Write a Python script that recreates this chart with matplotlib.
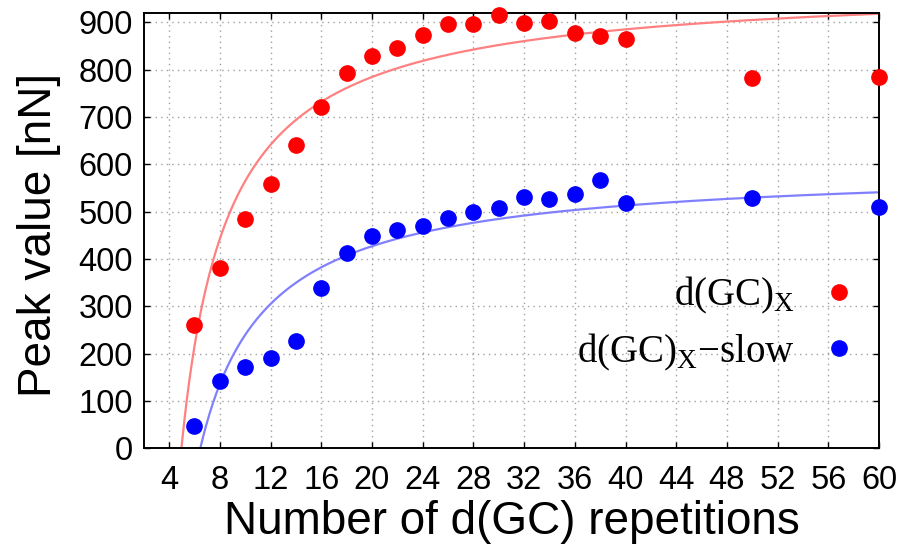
import numpy as np
from matplotlib import pyplot as plt

plt.rcParams['font.family'] = ['Liberation Sans', 'DejaVu Sans']
plt.rcParams['mathtext.fontset'] = 'custom'
plt.rcParams['mathtext.rm'] = 'Liberation Serif'

# number of d(GC) repetitions
reps = [6, 8, 10, 12, 14, 16, 18, 20, 22, 24, 26, 28, 30, 32, 34, 36, 38, 40, 50, 60]
# peak values [nN]
peak_fast = [260, 380, 484, 558, 640, 720, 793, 829, 846, 872, 896, 896, 916, 899, 902, 877, 871, 865, 783, 785]
peak_slow = [46, 142, 172, 191, 227, 338, 413, 449, 461, 470, 486, 498, 508, 530, 527, 536, 567, 519, 529, 510]

# fitted curves  y = A - B/(x - c)^n
fit_fast = [985.0, 3212.0, 1.5, 0.95]
fit_slow = [598.0, 2738.0, 1.5, 0.95]

xticks = list(range(4, 61, 4))
yticks = list(range(0, 901, 100))


def fitfun(x, p):
    A, B, c, n = p
    return A - B/(x - c)**n


fig = plt.figure(figsize=(9.1, 5.52), dpi=100)
ax = fig.add_axes([0.158, 0.188, 0.966-0.158, 0.977-0.188])

xs = np.linspace(4.0, 60.0, 600)
ax.plot(xs, fitfun(xs, fit_fast), color='#ff8080', lw=1.6, zorder=2)
ax.plot(xs, fitfun(xs, fit_slow), color='#8080ff', lw=1.6, zorder=2)

ax.plot(reps, peak_fast, ls='none', marker='o', ms=11, color='#ff0000',
        label=r'd(GC)$_\mathrm{X}$', clip_on=False, zorder=3)
ax.plot(reps, peak_slow, ls='none', marker='o', ms=11, color='#0000ff',
        label=r'd(GC)$_\mathrm{X}$' + '\u2212slow', clip_on=False, zorder=3)

ax.set_xlim(2, 60)
ax.set_ylim(0, 920)
ax.set_xticks(xticks)
ax.set_yticks(yticks)
ax.tick_params(direction='in', top=True, right=True, length=4, width=1,
               labelsize=23.5)
ax.tick_params(axis='x', pad=12)
ax.tick_params(axis='y', pad=8)
ax.grid(True, color='#a0a0a0', linestyle=(0, (1, 3)), lw=1)
ax.set_axisbelow(True)
for s in ax.spines.values():
    s.set_linewidth(1.4)

ax.set_xlabel('Number of d(GC) repetitions', fontsize=33)
ax.set_ylabel('Peak value [nN]', fontsize=33)
ax.xaxis.set_label_coords(0.5, -0.119)
ax.yaxis.set_label_coords(-0.112, 0.49)

leg = ax.legend(loc='center right', bbox_to_anchor=(0.962, 0.286),
                markerfirst=False, frameon=False, borderpad=0, borderaxespad=0,
                handlelength=0.6, handletextpad=0.85, labelspacing=0.4,
                prop={'family': 'Liberation Serif', 'size': 28})

fig.savefig('out.png', dpi=100)
